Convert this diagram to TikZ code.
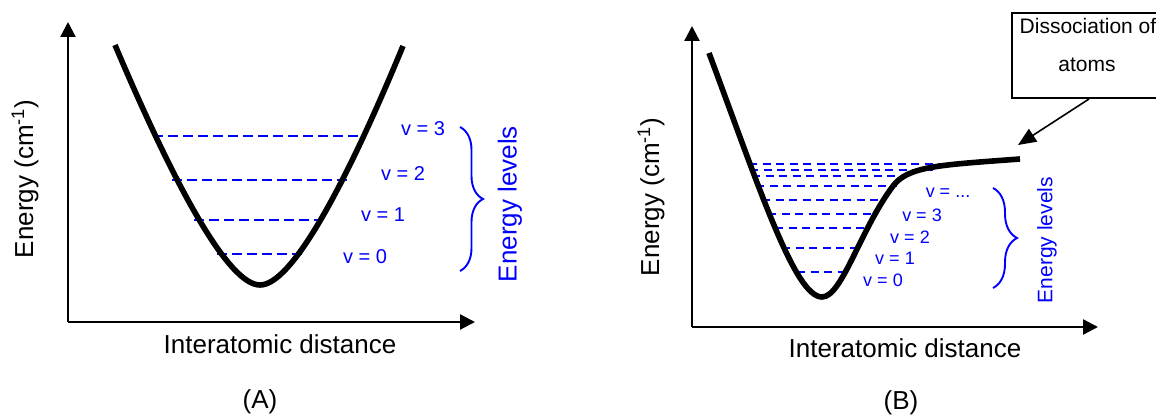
\documentclass[tikz,border=0pt]{standalone}
\usepackage{fontspec}
\setmainfont{Liberation Sans}
\usetikzlibrary{arrows.meta,decorations.pathreplacing}
\definecolor{lvl}{RGB}{0,0,255}
\tikzset{
  axis/.style={line width=2.3pt, -{Triangle[width=15pt,length=15pt]}},
  pes/.style={line width=5.6pt, line join=round},
  lvlA/.style={draw=lvl, line width=2pt, dash pattern=on 9.5pt off 5.5pt},
  lvlB/.style={draw=lvl, line width=1.8pt, dash pattern=on 8pt off 5.5pt},
  big/.style={font=\fontsize{26}{30}\selectfont, inner sep=0pt},
  vA/.style={text=lvl, font=\fontsize{20}{24}\selectfont, inner sep=0pt},
  vB/.style={text=lvl, font=\fontsize{18}{22}\selectfont, inner sep=0pt},
  brc/.style={draw=lvl, line width=1.9pt, decorate, decoration={brace, amplitude=#1}},
  boxtxt/.style={font=\fontsize{21}{24}\selectfont, inner sep=0pt, anchor=base},
}
\begin{document}
\begin{tikzpicture}[x=1pt,y=-1pt]
\useasboundingbox (0,0) rectangle (1156,419);

% ---------------- Panel A ----------------
\coordinate (oA) at (68,322);
\coordinate (ytA) at (68,22);
\coordinate (xtA) at (475,322);
\draw[axis] (oA) -- (ytA);
\draw[axis] (oA) -- (xtA);

\coordinate (a3l) at (153,136); \coordinate (a3r) at (365,136);
\coordinate (a2l) at (172,180); \coordinate (a2r) at (347,180);
\coordinate (a1l) at (194,220); \coordinate (a1r) at (318,220);
\coordinate (a0l) at (217,254); \coordinate (a0r) at (303,254);
\draw[lvlA] (a3l) -- (a3r);
\draw[lvlA] (a2l) -- (a2r);
\draw[lvlA] (a1l) -- (a1r);
\draw[lvlA] (a0l) -- (a0r);

\draw[pes] (115,45) .. controls (179,196) and (230,285) .. (260,285)
  .. controls (290,285) and (341,196) .. (403,46);

\node[vA] (vA3) at (423,129) {v = 3};
\node[vA] (vA2) at (403,174) {v = 2};
\node[vA] (vA1) at (383,215) {v = 1};
\node[vA] (vA0) at (365,257) {v = 0};

\coordinate (bAt) at (460,127);
\coordinate (bAb) at (460,271);
\draw[brc=23pt] (bAt) -- (bAb);
\node[big, text=lvl, rotate=90] (elA) at (510,204) {Energy levels};

\node[big, rotate=90] (yA) at (25,179) {Energy (cm\textsuperscript{-1})};
\node[big] (xA) at (280,344) {Interatomic distance};
\node[big] (capA) at (260,402) {(A)};

% ---------------- Panel B ----------------
\coordinate (oB) at (692,327);
\coordinate (ytB) at (692,26);
\coordinate (xtB) at (1098,327);
\draw[axis] (oB) -- (ytB);
\draw[axis] (oB) -- (xtB);

\foreach \y/\xl/\xr in {164/749/962, 170/750/933, 176/752/910, 186/756/897,
  200/762/884, 214/768/874, 228/775/867, 248/782/858, 272/797/843}{
  \draw[lvlB] (\xl,\y) -- (\xr,\y);
}

\draw[pes] (709,53) .. controls (760,190) and (795,297) .. (822,297)
  .. controls (842,297) and (860,230) .. (893,186)
  .. controls (908,166) and (940,165) .. (1020,159);

\node[vB] (vB0) at (883,280) {v = 0};
\node[vB] (vB1) at (895,258) {v = 1};
\node[vB] (vB2) at (910,237) {v = 2};
\node[vB] (vB3) at (922,215) {v = 3};
\node[vB] (vBn) at (948,193) {v = ...};

\coordinate (bBt) at (993,188);
\coordinate (bBb) at (993,288);
\draw[brc=24pt] (bBt) -- (bBb);
\node[text=lvl, rotate=90, font=\fontsize{21}{24}\selectfont, inner sep=0pt] (elB) at (1047,240) {Energy levels};

\node[big, rotate=90] (yB) at (651,197) {Energy (cm\textsuperscript{-1})};
\node[big] (xB) at (905,348) {Interatomic distance};
\node[big] (capB) at (901,403) {(B)};

% callout box
\node[draw, line width=2pt, minimum width=170pt, minimum height=85pt, inner sep=0pt] (box) at (1097,55.5) {};
\node[boxtxt] (bt1) at (1088,34) {Dissociation of};
\node[boxtxt] (bt2) at (1087,72) {atoms};
\coordinate (diss) at (1018,145);
\draw[line width=1.6pt, -{Triangle[width=15pt,length=18pt]}] ([xshift=-8pt]box.south) -- (diss);
\end{tikzpicture}
\end{document}
